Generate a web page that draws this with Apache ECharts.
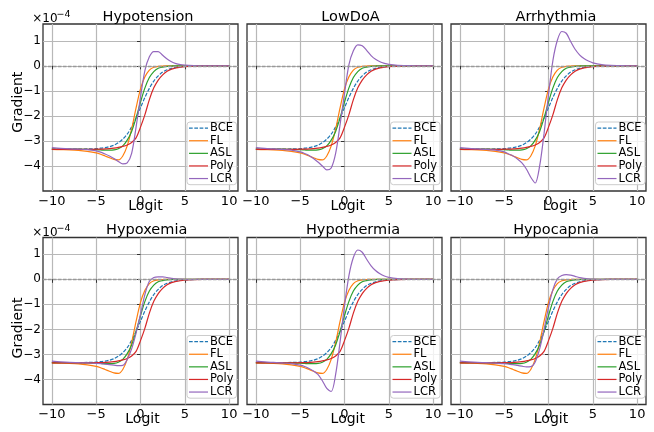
<!DOCTYPE html>
<html>
<head>
<meta charset="utf-8">
<script src="https://cdn.jsdelivr.net/npm/echarts@6/dist/echarts.min.js"></script>
<style>
  html, body { margin: 0; padding: 0; background: #fff; }
  #chart { width: 654px; height: 432px; }
</style>
</head>
<body>
<div id="chart"></div>
<script>
  // sample points along the logit axis
  var logits = [-10, -9, -8, -7, -6, -5, -4.5, -4, -3.5, -3, -2.5, -2, -1.5, -1, -0.5, 0,
    0.5, 1, 1.5, 2, 2.5, 3, 3.5, 4, 4.5, 5, 6, 7, 8, 9, 10];

  // gradients (x1e-4), same for every task
  var bce = [-3.33, -3.33, -3.33, -3.33, -3.32, -3.31, -3.29, -3.27, -3.23, -3.17, -3.07, -2.93, -2.73, -2.44, -2.08, -1.67,
    -1.26, -0.90, -0.61, -0.40, -0.25, -0.16, -0.10, -0.06, -0.04, -0.02, -0.01, 0, 0, 0, 0];
  var fl = [-3.34, -3.35, -3.36, -3.38, -3.42, -3.48, -3.53, -3.6, -3.67, -3.74, -3.76, -3.6, -3.2, -2.52, -1.68, -0.92,
    -0.44, -0.17, -0.06, -0.02, -0.01, 0, 0, 0, 0, 0, 0, 0, 0, 0, 0];
  var asl = [-3.33, -3.33, -3.33, -3.33, -3.34, -3.35, -3.36, -3.37, -3.37, -3.36, -3.31, -3.2, -2.97, -2.62, -2.08, -1.45,
    -0.88, -0.47, -0.23, -0.1, -0.05, -0.02, -0.01, 0, 0, 0, 0, 0, 0, 0, 0];
  var poly = [-3.34, -3.34, -3.34, -3.34, -3.34, -3.33, -3.33, -3.32, -3.31, -3.29, -3.26, -3.22, -3.16, -3.06, -2.88, -2.45,
    -1.95, -1.35, -0.88, -0.57, -0.36, -0.22, -0.13, -0.08, -0.05, -0.03, -0.01, 0, 0, 0, 0];

  // LCR gradient per task
  var lcrHypotension = [-3.27, -3.3, -3.32, -3.33, -3.35, -3.4, -3.45, -3.52, -3.6, -3.7, -3.82, -3.92, -3.88, -3.5, -2.45, -1.25,
    -0.18, 0.36, 0.57, 0.57, 0.42, 0.27, 0.16, 0.09, 0.05, 0.03, 0.01, 0, 0, 0, 0];
  var lcrLowDoA = [-3.27, -3.3, -3.32, -3.34, -3.37, -3.44, -3.5, -3.58, -3.7, -3.84, -4.0, -4.16, -4.08, -3.5, -2.35, -1.1,
    0.05, 0.6, 0.84, 0.8, 0.62, 0.41, 0.26, 0.16, 0.1, 0.06, 0.02, 0.01, 0, 0, 0];
  var lcrArrhythmia = [-3.27, -3.3, -3.32, -3.34, -3.37, -3.44, -3.52, -3.6, -3.72, -3.88, -4.12, -4.45, -4.68, -4.0, -2.7, -1.15,
    0.22, 1.02, 1.37, 1.3, 0.97, 0.66, 0.44, 0.29, 0.19, 0.12, 0.05, 0.02, 0.01, 0, 0];
  var lcrHypoxemia = [-3.27, -3.3, -3.32, -3.33, -3.34, -3.36, -3.37, -3.39, -3.41, -3.43, -3.45, -3.44, -3.2, -2.78, -2.15, -1.4,
    -0.6, -0.08, 0.07, 0.1, 0.1, 0.07, 0.04, 0.02, 0.01, 0, 0, 0, 0, 0, 0];
  var lcrHypothermia = [-3.27, -3.3, -3.32, -3.34, -3.37, -3.43, -3.48, -3.56, -3.66, -3.8, -4.05, -4.36, -4.48, -3.8, -2.5, -1.05,
    0.15, 0.87, 1.17, 1.08, 0.8, 0.54, 0.35, 0.22, 0.13, 0.08, 0.03, 0.01, 0, 0, 0];
  var lcrHypocapnia = [-3.27, -3.3, -3.32, -3.33, -3.35, -3.37, -3.39, -3.41, -3.44, -3.47, -3.5, -3.49, -3.3, -2.78, -2.0, -1.12,
    -0.4, 0.02, 0.15, 0.19, 0.17, 0.12, 0.07, 0.04, 0.02, 0.01, 0, 0, 0, 0, 0];

  var taskNames = ['Hypotension', 'LowDoA', 'Arrhythmia', 'Hypoxemia', 'Hypothermia', 'Hypocapnia'];
  var lcrByTask = [lcrHypotension, lcrLowDoA, lcrArrhythmia, lcrHypoxemia, lcrHypothermia, lcrHypocapnia];
  var lossNames = ['BCE', 'FL', 'ASL', 'Poly', 'LCR'];
  var lossColors = ['#1f77b4', '#ff7f0e', '#2ca02c', '#d62728', '#9467bd'];
  var xTicks = [-10, -5, 0, 5, 10];
  var yTicks = [-4, -3, -2, -1, 0, 1];

  var font = '"DejaVu Sans"';
  var gridLefts = [43, 247, 451];
  var gridTops = [24, 237.5];
  var gridW = 195, gridH = 167;
  var legendLefts = [187, 390.5, 595.5];
  var titleX = [148, 350.5, 556, 146.7, 353, 556];
  var logitX = [145.5, 347.7, 560, 142.5, 347.8, 551];

  // legend samples: a short dashed bar for BCE, a solid bar for the rest
  var dashIcon = 'path://M0,0h3.7v1.2h-3.7zM5.3,0h3.7v1.2h-3.7zM10.6,0h3.7v1.2h-3.7zM15.9,0h3.1v1.2h-3.1z';
  var solidIcon = 'path://M0,0h19v1.2h-19z';

  function pairs(ys) {
    return logits.map(function (x, i) { return [x, ys[i]]; });
  }
  function minus(v) {
    return String(v).replace('-', '\u2212');
  }
  function txt(x, y, s, size, extra) {
    var el = {
      type: 'text', x: x, y: y, silent: true,
      style: {
        text: s, font: size + 'px ' + font, fill: '#000',
        textAlign: 'center', textVerticalAlign: 'middle', align: 'center', verticalAlign: 'middle'
      }
    };
    for (var k in (extra || {})) el[k] = extra[k];
    return el;
  }

  var grids = [], xAxes = [], yAxes = [], series = [], legends = [], texts = [];

  taskNames.forEach(function (task, p) {
    var col = p % 3, row = Math.floor(p / 3);
    grids.push({
      left: gridLefts[col], top: gridTops[row], width: gridW, height: gridH,
      show: true, borderColor: '#333', borderWidth: 1.3, backgroundColor: 'transparent'
    });
    xAxes.push({
      gridIndex: p, type: 'value', min: -11, max: 11,
      axisLine: { show: false },
      axisTick: { show: true, length: 3.5, customValues: xTicks, lineStyle: { color: '#333', width: 1 } },
      axisLabel: { customValues: xTicks, formatter: minus, color: '#000', fontFamily: font, fontSize: 13, margin: 4 },
      splitLine: { show: true, lineStyle: { color: '#b8b8b8', width: 1.2 } }
    });
    yAxes.push({
      gridIndex: p, type: 'value', min: -5, max: 1.67,
      axisLine: { show: false },
      axisTick: { show: true, length: 3.5, customValues: yTicks, lineStyle: { color: '#333', width: 1 } },
      axisLabel: { show: col === 0, customValues: yTicks, formatter: minus, color: '#000', fontFamily: font, fontSize: 12, margin: 2 },
      splitLine: { show: true, lineStyle: { color: '#b8b8b8', width: 1.2 } }
    });

    var lines = [bce, fl, asl, poly, lcrByTask[p]];
    lines.forEach(function (ys, k) {
      var s = {
        name: lossNames[k], type: 'line', xAxisIndex: p, yAxisIndex: p,
        data: pairs(ys), smooth: 0.3, showSymbol: false, symbol: 'none',
        color: lossColors[k],
        lineStyle: { width: 1.2, color: lossColors[k], type: k === 0 ? [3.7, 1.6] : 'solid' },
        animation: false, silent: true
      };
      if (k === 0) {
        s.markLine = {
          silent: true, symbol: ['none', 'none'], label: { show: false },
          lineStyle: { color: '#999', type: [3.5, 1.5], width: 1.3 },
          data: [{ yAxis: 0 }], animation: false
        };
      }
      series.push(s);
    });

    legends.push({
      orient: 'vertical', left: legendLefts[col], top: gridTops[row] + 98,
      data: lossNames.map(function (n, k) { return { name: n, icon: k === 0 ? dashIcon : solidIcon }; }),
      selectedMode: false,
      itemWidth: 19, itemHeight: 8, itemGap: 0.3,
      padding: [0, 3, 0, 2],
      backgroundColor: 'rgba(255,255,255,0.8)', borderColor: '#cccccc', borderWidth: 1, borderRadius: 3,
      textStyle: { fontFamily: font, fontSize: 11.5, lineHeight: 12.3, color: '#000', padding: [0, 0, 0, -3] }
    });

    var titleY = row === 0 ? 17 : 230.6;
    texts.push(txt(titleX[p], titleY, task, 14.5));
    texts.push(txt(logitX[p], row === 0 ? 206 : 419.3, 'Logit', 14));
    if (col === 0) {
      texts.push(txt(18.5, row === 0 ? 102.2 : 328, 'Gradient', 14, { rotation: Math.PI / 2 }));
      var oy = row === 0 ? 19 : 233;
      var t1 = txt(32.3, oy, '\u00d710', 12);
      t1.style.textAlign = 'left'; t1.style.align = 'left';
      var t2 = txt(56.5, oy - 4, '\u22124', 9.5);
      t2.style.textAlign = 'left'; t2.style.align = 'left';
      texts.push(t1, t2);
    }
  });

  var chart = echarts.init(document.getElementById('chart'), null, { renderer: 'canvas' });
  chart.setOption({
    animation: false,
    backgroundColor: '#fff',
    grid: grids,
    xAxis: xAxes,
    yAxis: yAxes,
    legend: legends,
    series: series,
    graphic: { elements: texts }
  });
</script>
</body>
</html>
